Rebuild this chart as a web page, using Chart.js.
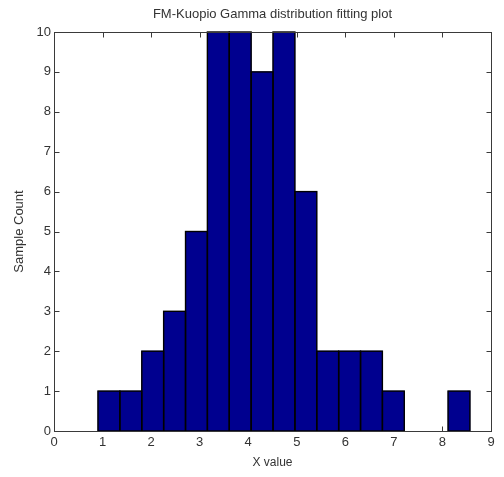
<!DOCTYPE html>
<html><head><meta charset="utf-8">
<script src="https://cdn.jsdelivr.net/npm/chart.js@4/dist/chart.umd.min.js"></script>
<style>html,body{margin:0;padding:0;background:#fff;}#wrap{width:504px;height:477px;}</style>
</head><body><div id="wrap"><canvas id="c" width="504" height="477"></canvas></div>
<script>
const titleText = 'FM-Kuopio Gamma distribution fitting plot';
const xLabel = 'X value';
const yLabel = 'Sample Count';
const binCenters = [1.131, 1.582, 2.033, 2.483, 2.934, 3.384, 3.835, 4.286, 4.736, 5.187, 5.637, 6.088, 6.538, 6.989, 7.440, 7.890, 8.341];
const counts = [1, 1, 2, 3, 5, 10, 10, 9, 10, 6, 2, 2, 2, 1, 0, 0, 1];
const xTicks = [0, 1, 2, 3, 4, 5, 6, 7, 8, 9];
const yTicks = [0, 1, 2, 3, 4, 5, 6, 7, 8, 9, 10];

const FONT = 'Liberation Sans, Arial, Helvetica, sans-serif';
const TEXT = '#333333';
const AXIS = '#3a3a3a';
const BAR = '#00008F';
const EDGE = '#000000';

const boxTicks = {
  id: 'boxTicks',
  beforeDatasetsDraw(chart) {
    const {ctx, chartArea: a, scales: {x, y}} = chart;
    ctx.save();
    ctx.strokeStyle = AXIS;
    ctx.lineWidth = 1;
    ctx.beginPath();
    const L = 5;
    const l = Math.round(a.left) + 0.5, r = Math.round(a.right) + 0.5;
    const t = Math.round(a.top) + 0.5, b = Math.round(a.bottom) + 0.5;
    xTicks.forEach(v => {
      const p = Math.round(x.getPixelForValue(v)) + 0.5;
      ctx.moveTo(p, b); ctx.lineTo(p, b - L);
      ctx.moveTo(p, t); ctx.lineTo(p, t + L);
    });
    yTicks.forEach(v => {
      const p = Math.round(y.getPixelForValue(v)) + 0.5;
      ctx.moveTo(l, p); ctx.lineTo(l + L, p);
      ctx.moveTo(r, p); ctx.lineTo(r - L, p);
    });
    ctx.stroke();
    ctx.restore();
  },
  afterDatasetsDraw(chart) {
    const {ctx, chartArea: a} = chart;
    ctx.save();
    // outlines of the bars, taken from the library's bar elements
    ctx.strokeStyle = EDGE;
    ctx.lineWidth = 1.4;
    ctx.lineJoin = 'miter';
    const meta = chart.getDatasetMeta(0);
    meta.data.forEach((bar, i) => {
      if (!counts[i]) return;
      const {x, y, base, width} = bar.getProps(['x', 'y', 'base', 'width'], true);
      ctx.strokeRect(x - width / 2, y, width, base - y);
    });
    ctx.strokeStyle = AXIS;
    ctx.lineWidth = 1;
    const l = Math.round(a.left) + 0.5, r = Math.round(a.right) + 0.5;
    const t = Math.round(a.top) + 0.5, b = Math.round(a.bottom) + 0.5;
    ctx.strokeRect(l, t, r - l, b - t);
    ctx.restore();
  }
};

new Chart(document.getElementById('c'), {
  type: 'bar',
  data: {
    datasets: [{
      data: binCenters.map((c, i) => ({x: c, y: counts[i]})),
      backgroundColor: (ctx) => counts[ctx.dataIndex] ? BAR : 'rgba(0,0,0,0)',
      borderWidth: 0,
      barPercentage: 1,
      categoryPercentage: 1
    }]
  },
  options: {
    responsive: false,
    animation: false,
    events: [],
    layout: {padding: {left: 0, right: 13, top: 0, bottom: 0}},
    plugins: {
      legend: {display: false},
      tooltip: {enabled: false},
      title: {
        display: true,
        fullSize: false,
        text: titleText,
        color: TEXT,
        font: {family: FONT, size: 13, weight: 'normal'},
        padding: {top: 7, bottom: 9.4}
      }
    },
    scales: {
      x: {
        type: 'linear',
        min: 0, max: 9,
        offset: false,
        grid: {display: false, drawTicks: false},
        border: {display: false},
        afterBuildTicks: (s) => { s.ticks = xTicks.map(v => ({value: v})); },
        ticks: {color: TEXT, font: {family: FONT, size: 13}, padding: 4, maxRotation: 0, autoSkip: false},
        title: {display: true, text: xLabel, color: TEXT, font: {family: FONT, size: 12}, padding: {top: 0, bottom: 7}},
        afterFit: (s) => { s.height = 46; }
      },
      y: {
        min: 0, max: 10,
        grid: {display: false, drawTicks: false},
        border: {display: false},
        afterBuildTicks: (s) => { s.ticks = yTicks.map(v => ({value: v})); },
        ticks: {color: TEXT, font: {family: FONT, size: 13}, padding: 3, autoSkip: false},
        title: {display: true, text: yLabel, color: TEXT, font: {family: FONT, size: 13}, padding: {top: 12, bottom: 0}},
        afterFit: (s) => { s.width = 54; }
      }
    }
  },
  plugins: [boxTicks]
});
</script>
</body></html>
